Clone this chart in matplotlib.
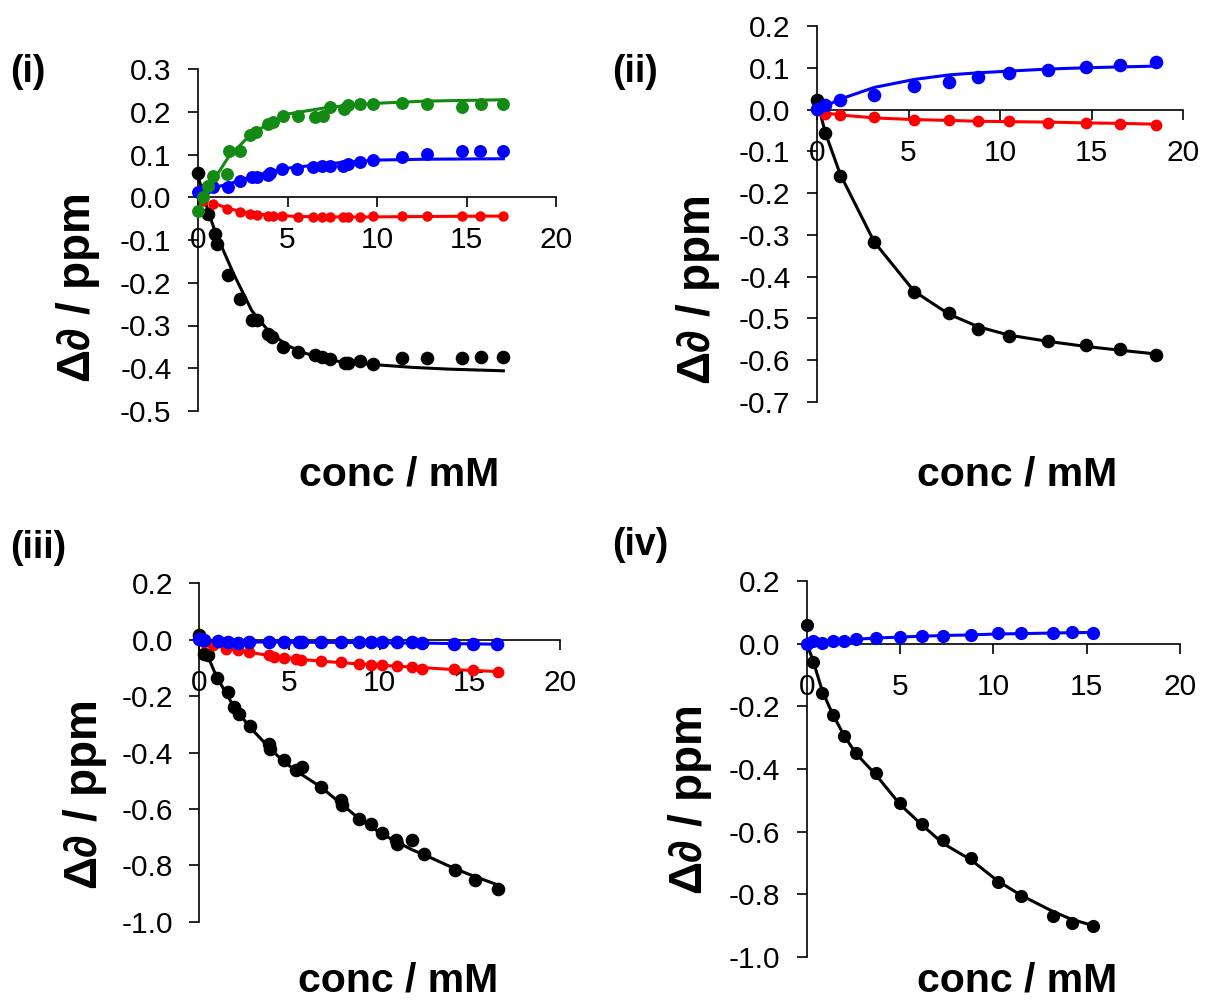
import numpy as np
import matplotlib
matplotlib.use("Agg")
import matplotlib.pyplot as plt
from matplotlib.ticker import FuncFormatter

plt.rcParams['font.family'] = ['Liberation Sans', 'DejaVu Sans']
plt.rcParams['axes.unicode_minus'] = False
plt.rcParams['mathtext.fontset'] = 'custom'
plt.rcParams['mathtext.rm'] = 'Liberation Sans:bold'
plt.rcParams['mathtext.it'] = 'Liberation Sans:italic:bold'
plt.rcParams['mathtext.bf'] = 'Liberation Sans:bold'

# ---------------- Panel (i) ----------------
i_green_x = [0.0, 0.3, 0.58, 0.86, 1.6, 1.75, 2.35, 2.9, 3.24, 3.93, 4.17, 4.77, 5.6, 6.54,
             6.96, 7.37, 8.16, 8.4, 9.05, 9.8, 11.38, 12.77, 14.73, 15.79, 17.06]
i_green_y = [-0.031, 0.0, 0.027, 0.05, 0.055, 0.109, 0.109, 0.145, 0.152, 0.172, 0.176, 0.191,
             0.191, 0.188, 0.191, 0.211, 0.207, 0.215, 0.219, 0.219, 0.220, 0.219, 0.211, 0.219, 0.219]
i_green_fit_x = [0.0, 0.86, 1.7, 2.9, 3.93, 5.05, 7.37, 10.07, 12.77, 17.06]
i_green_fit_y = [-0.031, 0.039, 0.094, 0.145, 0.172, 0.195, 0.211, 0.220, 0.225, 0.228]

i_blue_x = [0.0, 0.4, 0.86, 1.69, 2.35, 3.0, 3.28, 3.93, 4.02, 4.67, 5.51, 6.44, 6.9, 7.37, 8.12,
            8.4, 9.05, 9.8, 11.38, 12.77, 14.73, 15.75, 17.06]
i_blue_y = [0.013, 0.020, 0.025, 0.023, 0.039, 0.047, 0.047, 0.051, 0.056, 0.066, 0.066, 0.070,
            0.072, 0.074, 0.074, 0.078, 0.082, 0.086, 0.094, 0.102, 0.109, 0.109, 0.108]
i_blue_fit_x = [0.0, 0.86, 1.7, 3.0, 4.0, 5.0, 7.37, 10.0, 12.77, 17.06]
i_blue_fit_y = [0.013, 0.022, 0.031, 0.048, 0.059, 0.068, 0.079, 0.087, 0.089, 0.090]

i_red_x = [0.3, 0.86, 1.6, 2.35, 2.9, 3.28, 3.93, 4.17, 4.67, 5.6, 6.44, 6.9, 7.37, 8.12, 8.4,
           9.05, 9.8, 11.38, 12.77, 14.73, 15.75, 17.06]
i_red_y = [-0.008, -0.016, -0.027, -0.035, -0.039, -0.041, -0.043, -0.045, -0.045, -0.047, -0.047,
           -0.047, -0.047, -0.047, -0.047, -0.047, -0.045, -0.045, -0.045, -0.043, -0.043, -0.043]
i_red_fit_x = [0.76, 1.6, 2.35, 3.28, 4.17, 5.6, 7.37, 9.8, 12.77, 17.06]
i_red_fit_y = [-0.012, -0.025, -0.033, -0.039, -0.042, -0.045, -0.046, -0.046, -0.045, -0.044]

i_black_x = [0.0, 0.58, 0.95, 1.04, 1.69, 2.35, 3.0, 3.28, 3.93, 4.12, 4.77, 5.6, 6.54, 6.9,
             7.37, 8.2, 8.4, 9.05, 9.76, 11.38, 12.77, 14.73, 15.79, 17.06]
i_black_y = [0.056, -0.039, -0.085, -0.109, -0.181, -0.238, -0.288, -0.288, -0.32, -0.327, -0.351,
             -0.362, -0.37, -0.374, -0.378, -0.388, -0.388, -0.382, -0.39, -0.376, -0.376, -0.376,
             -0.374, -0.374]
i_black_fit_x = [0.0, 0.58, 1.0, 2.0, 3.0, 4.0, 5.0, 6.0, 7.0, 8.0, 10.0, 12.0, 14.0, 17.06]
i_black_fit_y = [0.05, -0.035, -0.085, -0.18, -0.265, -0.316, -0.347, -0.365, -0.377, -0.385,
                 -0.392, -0.398, -0.402, -0.406]

# ---------------- Panel (ii) ----------------
ii_x = [0.0, 0.45, 1.27, 3.13, 5.31, 7.22, 8.82, 10.5, 12.64, 14.69, 16.55, 18.51]
ii_blue_y = [0.002, 0.010, 0.022, 0.036, 0.056, 0.067, 0.077, 0.087, 0.095, 0.103, 0.107, 0.113]
ii_blue_fit_y = [0.002, 0.008, 0.025, 0.053, 0.072, 0.083, 0.088, 0.092, 0.097, 0.100, 0.102, 0.104]
ii_red_y = [0.0, -0.010, -0.014, -0.019, -0.024, -0.026, -0.027, -0.028, -0.031, -0.033, -0.035, -0.038]
ii_red_fit_y = [0.0, -0.008, -0.013, -0.020, -0.024, -0.026, -0.028, -0.029, -0.030, -0.032, -0.033, -0.035]
ii_black_y = [0.022, -0.055, -0.159, -0.317, -0.437, -0.487, -0.525, -0.541, -0.553, -0.563, -0.573, -0.587]
ii_black_fit_y = [0.022, -0.055, -0.155, -0.317, -0.435, -0.49, -0.52, -0.54, -0.555, -0.567, -0.576, -0.585]

# ---------------- Panel (iii) ----------------
iii_black_x = [0.0, 0.28, 0.46, 0.96, 1.57, 1.94, 2.21, 2.8, 3.84, 3.9, 4.7, 5.35, 5.72, 6.73,
               7.84, 7.93, 8.86, 9.5, 10.15, 10.9, 10.98, 11.8, 12.45, 14.17, 15.28, 16.57]
iii_black_y = [0.018, -0.050, -0.056, -0.135, -0.186, -0.239, -0.262, -0.307, -0.371, -0.386,
               -0.426, -0.463, -0.452, -0.522, -0.570, -0.587, -0.635, -0.652, -0.686, -0.709,
               -0.726, -0.709, -0.759, -0.818, -0.853, -0.883]
iii_black_fit_x = [0.0, 0.46, 0.96, 1.94, 2.8, 3.84, 4.7, 5.72, 6.73, 7.84, 8.86, 10.15, 11.8,
                   12.45, 14.17, 15.28, 16.57]
iii_black_fit_y = [0.018, -0.056, -0.132, -0.24, -0.31, -0.38, -0.434, -0.48, -0.522, -0.58,
                   -0.635, -0.69, -0.745, -0.762, -0.812, -0.84, -0.87]

iii_red_x = [0.0, 0.28, 0.74, 1.48, 2.12, 2.77, 3.87, 4.15, 4.7, 5.35, 5.63, 6.73, 7.84, 8.86,
             9.5, 10.15, 10.98, 11.8, 12.36, 14.11, 15.2, 16.57]
iii_red_y = [0.005, -0.008, -0.020, -0.032, -0.038, -0.044, -0.056, -0.061, -0.064, -0.067,
             -0.071, -0.077, -0.079, -0.085, -0.091, -0.089, -0.095, -0.097, -0.103, -0.105,
             -0.109, -0.115]
iii_red_fit_x = [0.0, 0.74, 2.12, 3.87, 5.35, 6.73, 8.86, 10.98, 12.36, 14.11, 16.57]
iii_red_fit_y = [0.0, -0.02, -0.038, -0.056, -0.068, -0.076, -0.086, -0.094, -0.099, -0.106, -0.113]

iii_blue_x = [0.0, 0.28, 1.01, 1.57, 2.12, 2.77, 3.87, 4.7, 5.53, 5.7, 6.73, 7.84, 8.86, 9.5,
              10.15, 10.98, 11.8, 12.36, 14.11, 15.2, 16.5]
iii_blue_y = [0.004, -0.002, -0.005, -0.008, -0.012, -0.008, -0.008, -0.008, -0.008, -0.008,
              -0.008, -0.008, -0.008, -0.008, -0.008, -0.008, -0.008, -0.012, -0.017, -0.017, -0.017]
iii_blue_fit_x = [0.0, 1.01, 2.77, 5.53, 8.86, 12.36, 16.5]
iii_blue_fit_y = [0.002, -0.005, -0.008, -0.009, -0.010, -0.012, -0.016]

# ---------------- Panel (iv) ----------------
iv_x = [0.0, 0.32, 0.84, 1.39, 2.02, 2.63, 3.7, 5.0, 6.2, 7.32, 8.8, 10.23, 11.48, 13.2, 14.2, 15.36]
iv_blue_y = [0.0, 0.009, 0.003, 0.009, 0.009, 0.014, 0.019, 0.021, 0.024, 0.024, 0.028, 0.033,
             0.033, 0.035, 0.037, 0.035]
iv_blue_fit_y = [0.0, 0.006, 0.008, 0.010, 0.012, 0.014, 0.018, 0.021, 0.024, 0.026, 0.028,
                 0.031, 0.032, 0.034, 0.035, 0.036]
iv_black_y = [0.059, -0.057, -0.158, -0.228, -0.296, -0.348, -0.414, -0.51, -0.575, -0.625,
              -0.684, -0.761, -0.805, -0.869, -0.89, -0.901]
iv_black_fit_y = [0.0, -0.05, -0.152, -0.225, -0.295, -0.35, -0.418, -0.513, -0.58, -0.638,
                  -0.69, -0.757, -0.803, -0.855, -0.88, -0.9]

panel_labels = ['(i)', '(ii)', '(iii)', '(iv)']
x_label = 'conc / mM'
y_label = r'$\Delta\mathit{∂}$ / ppm'

BLACK, RED, BLUE, GREEN = '#000000', '#ff0000', '#0000ff', '#138a13'

W, H = 1208, 1001
fig = plt.figure(figsize=(W / 100, H / 100), dpi=100)


def add_axes(left, right, top, bottom):
    return fig.add_axes([left / W, 1 - bottom / H, (right - left) / W, (bottom - top) / H])


def fmt(v, pos):
    s = '%.1f' % v
    return '0.0' if s == '-0.0' else s


def setup(ax, ymin, ymax, ystep):
    ax.set_xlim(0, 20)
    ax.set_ylim(ymin, ymax)
    for s in ['top', 'right']:
        ax.spines[s].set_visible(False)
    ax.spines['bottom'].set_position(('data', 0))
    for s in ['bottom', 'left']:
        ax.spines[s].set_linewidth(1.2)
    ax.set_xticks([0, 5, 10, 15, 20])
    ax.set_yticks(np.arange(ymin, ymax + ystep / 2, ystep))
    ax.yaxis.set_major_formatter(FuncFormatter(fmt))
    ax.tick_params(direction='out', length=7, width=1.2, labelsize=21.5)
    ax.tick_params(axis='y', pad=12)
    ax.tick_params(axis='x', pad=14)
    ax.patch.set_visible(False)


def series(ax, x, y, fx, fy, color, ms=9.5, z=2):
    ax.plot(fx, fy, '-', color=color, lw=2.2, clip_on=False, zorder=z)
    ax.plot(x, y, 'o', color=color, ms=ms, mew=0, clip_on=False, zorder=z + 0.5)


# (i)
ax1 = add_axes(198, 556, 69, 411)
setup(ax1, -0.5, 0.3, 0.1)
series(ax1, i_black_x, i_black_y, i_black_fit_x, i_black_fit_y, BLACK, ms=9.8, z=2)
series(ax1, i_red_x, i_red_y, i_red_fit_x, i_red_fit_y, RED, ms=7.5, z=3)
series(ax1, i_blue_x, i_blue_y, i_blue_fit_x, i_blue_fit_y, BLUE, ms=9.3, z=4)
series(ax1, i_green_x, i_green_y, i_green_fit_x, i_green_fit_y, GREEN, ms=9.3, z=5)

# (ii)
ax2 = add_axes(817, 1183, 26, 402)
setup(ax2, -0.7, 0.2, 0.1)
series(ax2, ii_x, ii_black_y, ii_x, ii_black_fit_y, BLACK, ms=9.8, z=2)
series(ax2, ii_x, ii_red_y, ii_x, ii_red_fit_y, RED, ms=8.5, z=3)
series(ax2, ii_x, ii_blue_y, ii_x, ii_blue_fit_y, BLUE, ms=9.8, z=4)

# (iii)
ax3 = add_axes(199.3, 560, 583.3, 921.7)
setup(ax3, -1.0, 0.2, 0.2)
series(ax3, iii_black_x, iii_black_y, iii_black_fit_x, iii_black_fit_y, BLACK, ms=9.8, z=2)
series(ax3, iii_red_x, iii_red_y, iii_red_fit_x, iii_red_fit_y, RED, ms=8.5, z=3)
series(ax3, iii_blue_x, iii_blue_y, iii_blue_fit_x, iii_blue_fit_y, BLUE, ms=9.8, z=4)

# (iv)
ax4 = add_axes(806.7, 1180, 581, 957)
setup(ax4, -1.0, 0.2, 0.2)
series(ax4, iv_x, iv_black_y, iv_x, iv_black_fit_y, BLACK, ms=9.5, z=2)
series(ax4, iv_x, iv_blue_y, iv_x, iv_blue_fit_y, BLUE, ms=9.5, z=4)

# labels
for (px, py) in [(399, 486), (1017, 486), (398, 992), (1017, 992)]:
    fig.text(px / W, 1 - py / H, x_label, ha='center', va='baseline',
             fontsize=29.5, fontweight='bold')
for (px, py) in [(78, 288), (698, 290), (85, 795), (690, 800)]:
    fig.text(px / W, 1 - py / H, y_label, ha='center', va='center', rotation=90,
             fontsize=33, fontweight='bold')
for lab, (px, py) in zip(panel_labels, [(10, 72), (612, 72), (10, 548), (612, 545)]):
    fig.text(px / W, 1 - py / H, lab, ha='left', va='center', fontsize=27, fontweight='bold')

fig.savefig('out.png', dpi=100)
